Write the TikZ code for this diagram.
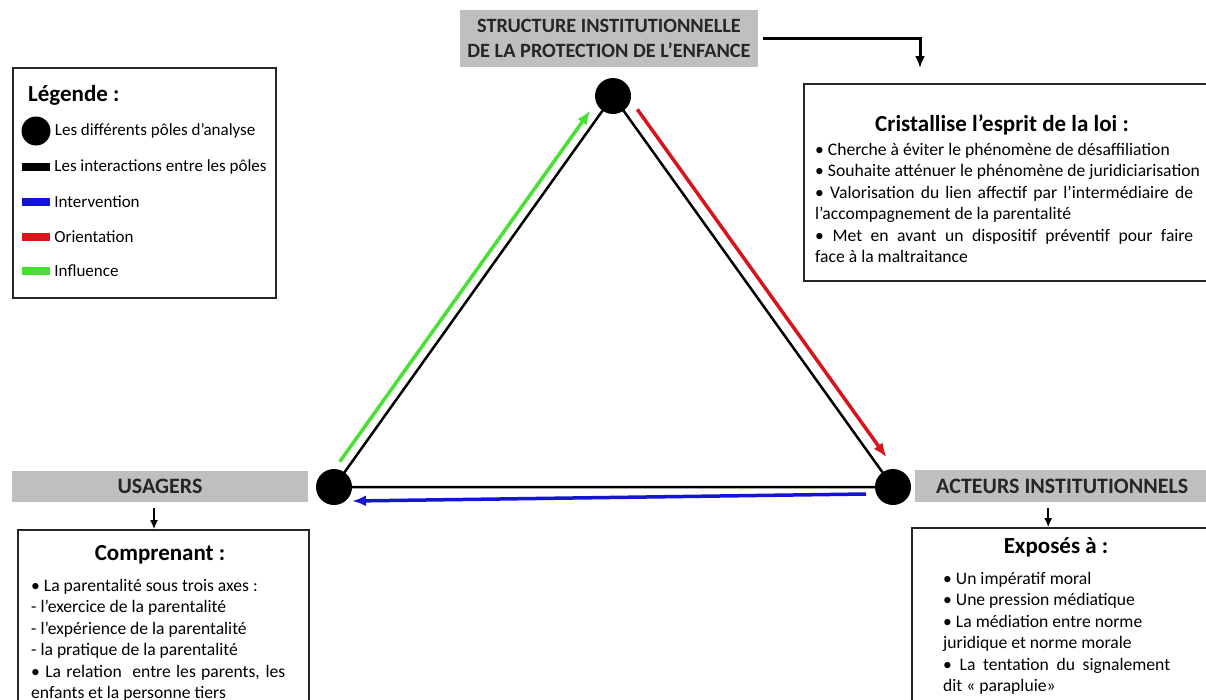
\documentclass[tikz,border=0pt]{standalone}
\usepackage{fontspec}
\setmainfont{Carlito}
\usetikzlibrary{arrows.meta,positioning,calc}

\definecolor{intervention}{RGB}{20,20,210}
\definecolor{orientation}{RGB}{215,20,25}
\definecolor{influence}{RGB}{70,225,50}

\hyphenpenalty=10000
\exhyphenpenalty=10000

\begin{document}
\begin{tikzpicture}[
  x=1pt, y=-1pt,
  >=Latex,
  pole/.style={circle, fill=black, inner sep=0pt, minimum size=36pt},
  polebox/.style={rectangle, fill=gray!50, text=black!85, align=center, inner sep=0pt, font=\bfseries\fontsize{22}{25}\selectfont},
  textbox/.style={rectangle, draw=black!85, line width=1.5pt, inner sep=0pt},
  boxtitle/.style={inner sep=0pt, font=\bfseries\fontsize{23}{26}\selectfont},
  boxitems/.style={align=justify, inner sep=0pt, font=\fontsize{17.6}{21.4}\selectfont},
  legitem/.style={inner sep=0pt, font=\fontsize{17}{20}\selectfont},
  swatch/.style={rectangle, minimum width=28pt, minimum height=8pt, inner sep=0pt},
  link/.style={draw, line width=2.5pt},
  relation/.style={draw, line width=3.5pt, -{Latex[length=14pt,width=11pt]}},
  line/.style={draw, line width=2pt, -{Latex[length=9pt,width=8pt]}}
]
\useasboundingbox (0,0) rectangle (1206,699);
\clip (0,0) rectangle (1206,699);

% legende
\node[textbox, anchor=north west, minimum width=263pt, minimum height=230pt] (legend) at (12,67) {};
\node[boxtitle, anchor=base west] (legtitle) at (28,101) {Légende :};
\node[pole, minimum size=29pt] (legpole) at (36,131) {};
\node[swatch, fill=black] (legblack) at (36,167) {};
\node[swatch, fill=intervention] (legblue) at (36,202) {};
\node[swatch, fill=orientation] (legred) at (36,237) {};
\node[swatch, fill=influence] (leggreen) at (36,271) {};
\node[legitem, right=4pt of legpole.east |- legpole] (legpoletext) {Les différents pôles d’analyse};
\node[legitem, right=4pt of legblack] (legblacktext) {Les interactions entre les pôles};
\node[legitem, right=4pt of legblue] (legbluetext) {Intervention};
\node[legitem, right=4pt of legred] (legredtext) {Orientation};
\node[legitem, right=4pt of leggreen] (leggreentext) {Influence};

% triangle des poles
\node[pole] (structure) at (613,96) {};
\node[pole] (usagers) at (334,487) {};
\node[pole] (acteurs) at (893,487) {};
\path[link] (structure.center) -- (usagers.center) -- (acteurs.center) -- cycle;

\path[relation, draw=influence] ($(usagers)!24pt!(structure)!10pt!90:(structure)$) -- ($(structure)!25pt!(usagers)!10pt!-90:(usagers)$);
\path[relation, draw=orientation] ($(structure)!25pt!(acteurs)!12pt!90:(acteurs)$) -- ($(acteurs)!28pt!(structure)!12pt!-90:(structure)$);
\path[relation, draw=intervention] ($(acteurs)!27pt!(usagers)!7pt!90:(usagers)$) -- ($(usagers)!18pt!(acteurs)!14pt!-90:(acteurs)$);

% etiquettes
\node[polebox, font=\bfseries\fontsize{20.3}{25}\selectfont, minimum width=298pt, minimum height=57pt] (structlabel) at (609,38.5) {STRUCTURE INSTITUTIONNELLE\\DE LA PROTECTION DE L’ENFANCE};
\node[polebox, minimum width=296pt, minimum height=31pt] (usagerslabel) at (160,486.5) {USAGERS};
\node[polebox, anchor=west, minimum width=294pt, minimum height=32pt] (acteurslabel) at (915,486) {ACTEURS INSTITUTIONNELS};

% encadres
\node[textbox, anchor=north west, minimum width=430pt, minimum height=197pt] (loibox) at (803,83) {};
\node[boxtitle] (loititle) at (1002,125) {Cristallise l’esprit de la loi :};
\node[boxitems, text width=378pt, anchor=north west] (loi) at (815,143) {%
• Cherche à éviter le phénomène de désaffiliation\\
\mbox{• Souhaite atténuer le phénomène de juridiciarisation}\\
• Valorisation du lien affectif par l’intermédiaire de\linebreak l’accompagnement de la parentalité\\
• Met en avant un dispositif préventif pour faire\linebreak face à la maltraitance};

\node[textbox, anchor=north west, minimum width=291pt, minimum height=200pt] (comprenantbox) at (17,529) {};
\node[boxtitle] (comprenanttitle) at (160,555) {Comprenant :};
\node[boxitems, text width=254pt, anchor=north west] (comprenant) at (31,579) {%
• La parentalité sous trois axes :\\
- l’exercice de la parentalité\\
- l’expérience de la parentalité\\
- la pratique de la parentalité\\
• La relation\ \ entre les parents, les\linebreak enfants et la personne tiers};

\node[textbox, anchor=north west, minimum width=310pt, minimum height=200pt] (exposesbox) at (911,527) {};
\node[boxtitle] (exposestitle) at (1056,547) {Exposés à :};
\node[boxitems, text width=227pt, anchor=north west] (exposes) at (943,572) {%
• Un impératif moral\\
• Une pression médiatique\\
• La médiation entre norme\\ juridique et norme morale\\
• La tentation du signalement\linebreak dit «~parapluie»};

% fleches vers les encadres
\path[line, line width=3pt, -{Latex[length=12pt,width=10pt]}, shorten <=5pt, shorten >=15pt] (structlabel.east) -| ([xshift=117pt]loibox.north west);
\path[line, shorten <=6pt] ([xshift=-6pt]usagerslabel.south) -- ++(0,27);
\path[line, shorten <=6pt] ([xshift=-14pt]acteurslabel.south) -- ++(0,25);

\end{tikzpicture}
\end{document}
